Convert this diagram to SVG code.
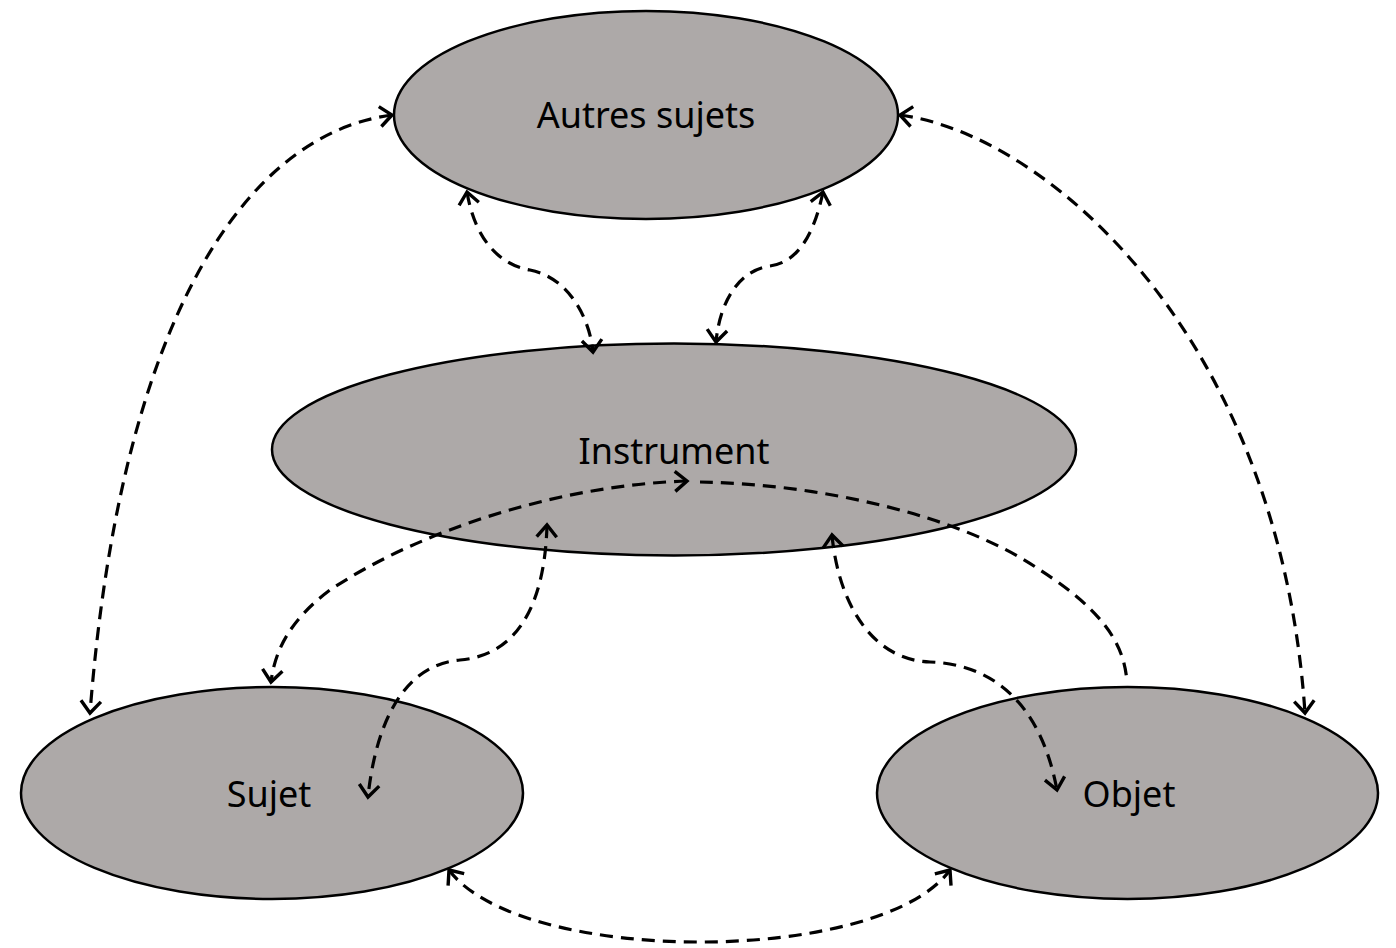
<svg xmlns="http://www.w3.org/2000/svg" width="1396" height="948" viewBox="0 0 1396 948">
<style>
.node{fill:#ADA9A8;stroke:#000;stroke-width:2.5}
.lbl{font-family:"Noto Sans","Open Sans","Liberation Sans",sans-serif;font-size:36px;fill:#000;text-anchor:middle}
.c{fill:none;stroke:#000;stroke-width:3.2;stroke-dasharray:13 8}
.both{marker-start:url(#arr);marker-end:url(#arr)}
.end{marker-end:url(#arr)}
</style>
<defs>
<marker id="arr" markerUnits="userSpaceOnUse" viewBox="-14 -11 16 22" refX="0" refY="0" markerWidth="16" markerHeight="22" orient="auto-start-reverse" overflow="visible">
<path d="M -12,-10 L 0,0 L -12,10" fill="none" stroke="#000" stroke-width="3.4" stroke-dasharray="none" stroke-linejoin="miter"/>
</marker>
</defs>
<rect width="1396" height="948" fill="#fff"/>
<g id="autres">
<ellipse class="node" cx="646" cy="115" rx="252" ry="104"/>
<text class="lbl" x="646" y="128">Autres sujets</text>
</g>
<g id="instrument">
<ellipse class="node" cx="674" cy="449.5" rx="402" ry="106"/>
<text class="lbl" x="674" y="464">Instrument</text>
</g>
<g id="sujet">
<ellipse class="node" cx="272" cy="793" rx="251" ry="106"/>
<text class="lbl" x="269" y="807">Sujet</text>
</g>
<g id="objet">
<ellipse class="node" cx="1127.5" cy="793" rx="250.5" ry="106"/>
<text class="lbl" x="1129" y="807">Objet</text>
</g>
<g id="connectors">
<path class="c both" d="M 392,115 C 240,135 120,330 90,713"/>
<path class="c both" d="M 900,115 C 1050,135 1280,340 1305,713"/>
<path class="c both" d="M 467,192 C 475,240 500,265 530,270 C 570,278 590,320 593,352"/>
<path class="c both" d="M 823,192 C 815,230 800,262 770,266 C 740,270 720,300 716,342"/>
<path class="c both" d="M 687,481 C 560,485 420,530 330,590 C 290,620 275,650 271,682"/>
<path class="c" d="M 700,482 C 820,484 960,515 1040,570 C 1110,615 1125,650 1127,683"/>
<path class="c both" d="M 547,525 C 545,600 520,655 460,660 C 400,665 375,730 368,797"/>
<path class="c both" d="M 832,535 C 838,600 870,660 930,662 C 990,664 1040,700 1057,790"/>
<path class="c both" d="M 449,870 C 520,966 880,966 950,870"/>
</g>
</svg>
